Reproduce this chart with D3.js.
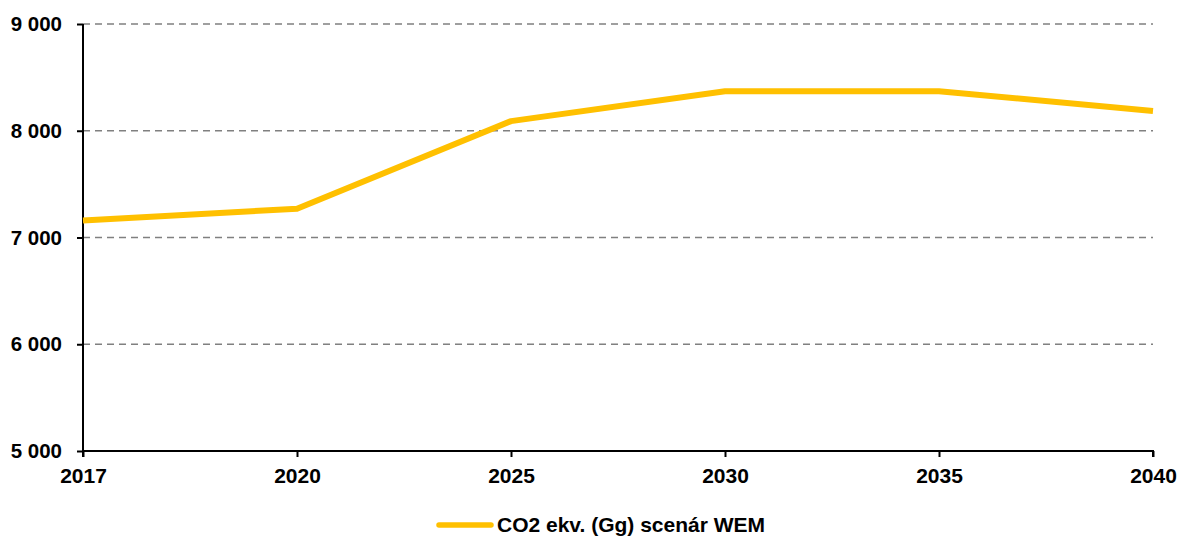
<!DOCTYPE html>
<html>
<head>
<meta charset="utf-8">
<script src="https://cdn.jsdelivr.net/npm/d3@7"></script>
<style>
  html, body { margin: 0; padding: 0; background: #fff; }
  svg { display: block; }
  text { font-family: "Liberation Sans", Arial, sans-serif; font-weight: bold; fill: #000; }
</style>
</head>
<body>
<svg id="chart" width="1182" height="537"></svg>
<script>
const categories = ["2017", "2020", "2025", "2030", "2035", "2040"];
const seriesName = "CO2 ekv. (Gg) scenár WEM";
const seriesValues = [7160, 7270, 8090, 8370, 8370, 8185];
const yTicks = [5000, 6000, 7000, 8000, 9000];
const yTickLabels = ["5 000", "6 000", "7 000", "8 000", "9 000"];

(function () {
const svg = d3.select("#chart");
const mLeft = 83, mRight = 1153, mTop = 24, mBottom = 451;
const fontFam = '"Liberation Sans", Arial, sans-serif';

const x = d3.scalePoint().domain(categories).range([mLeft, mRight]).padding(0);
const y = d3.scaleLinear().domain([5000, 9000]).range([mBottom, mTop]);

// gridlines
svg.append("g").selectAll("line")
  .data(yTicks.filter(v => v > 5000))
  .join("line")
  .attr("x1", mLeft).attr("x2", mRight)
  .attr("y1", d => y(d)).attr("y2", d => y(d))
  .attr("stroke", "#808080")
  .attr("stroke-width", 1.5)
  .attr("stroke-dasharray", "7,5");

// y axis
const yAxis = d3.axisLeft(y).tickValues(yTicks)
  .tickFormat((d, i) => yTickLabels[i]).tickSize(6).tickPadding(15);
const gy = svg.append("g").attr("transform", `translate(${mLeft},0)`).call(yAxis);
gy.select(".domain").attr("stroke", "#000").attr("stroke-width", 2).attr("d", `M0,${mBottom}V${mTop}`);
gy.selectAll(".tick line").attr("stroke", "#000").attr("stroke-width", 2);
gy.selectAll(".tick text").style("font-size", "20.5px").style("font-family", fontFam).style("font-weight", "bold").attr("fill", "#000");

// x axis
const xAxis = d3.axisBottom(x).tickSize(6).tickPadding(11);
const gx = svg.append("g").attr("transform", `translate(0,${mBottom})`).call(xAxis);
gx.select(".domain").attr("stroke", "#000").attr("stroke-width", 2).attr("d", `M${mLeft},6V0H${mRight}V6`);
gx.selectAll(".tick line").attr("stroke", "#000").attr("stroke-width", 2);
gx.selectAll(".tick text").style("font-size", "21px").style("font-family", fontFam).style("font-weight", "bold").attr("fill", "#000");

// line
const line = d3.line().x((d, i) => x(categories[i])).y(d => y(d));
svg.append("path").datum(seriesValues)
  .attr("d", line)
  .attr("fill", "none")
  .attr("stroke", "#FFC000")
  .attr("stroke-width", 6)
  .attr("stroke-linejoin", "round");

// legend
const lg = svg.append("g").attr("transform", "translate(439,525)");
lg.append("line").attr("x1", 0).attr("x2", 52).attr("y1", 0).attr("y2", 0)
  .attr("stroke", "#FFC000").attr("stroke-width", 5.5).attr("stroke-linecap", "round");
lg.append("text").attr("x", 58).attr("y", 0).attr("dy", "0.35em")
  .style("font-size", "21px").style("font-family", fontFam).text(seriesName);
})();
</script>
</body>
</html>
